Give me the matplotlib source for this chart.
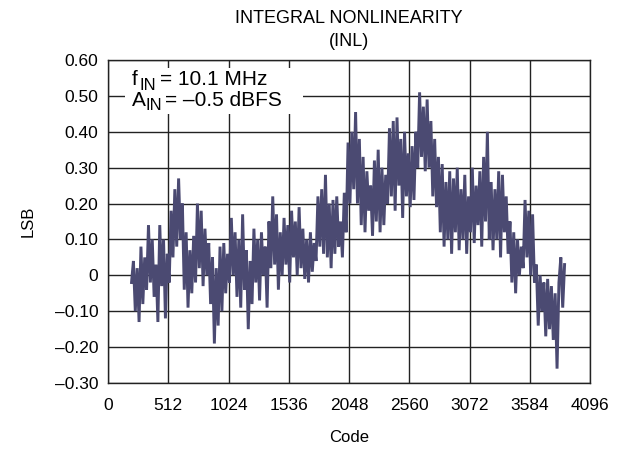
import matplotlib
matplotlib.use("Agg")
import matplotlib.pyplot as plt
import numpy as np
from matplotlib.patches import Rectangle

plt.rcParams['font.family'] = ['Liberation Sans', 'DejaVu Sans']

# INL trace, one value every 16 codes from code 200
inl = [
    -0.02, 0.04, -0.10, 0.02, -0.13, 0.08, -0.08, 0.05, -0.04, 0.14, -0.02, 0.10, -0.06, 0.03, -0.13, 0.14,
    -0.03, 0.10, -0.12, 0.06, -0.02, 0.18, 0.05, 0.24, 0.08, 0.27, 0.10, 0.20, -0.04, 0.12, -0.09, 0.07,
    -0.05, 0.11, -0.02, 0.20, 0.02, 0.18, -0.03, 0.13, 0.00, 0.09, -0.08, 0.05, -0.19, 0.02, -0.14, 0.08,
    -0.10, 0.09, -0.05, 0.06, -0.02, 0.16, 0.00, 0.12, -0.06, 0.10, -0.09, 0.17, -0.04, 0.07, -0.15, 0.04,
    -0.08, 0.13, -0.02, 0.10, -0.07, 0.12, 0.00, 0.08, -0.09, 0.15, 0.02, 0.22, 0.03, 0.17, -0.04, 0.12,
    0.00, 0.16, 0.03, 0.14, -0.02, 0.18, 0.05, 0.15, 0.00, 0.19, 0.02, 0.13, -0.01, 0.10, -0.02, 0.12,
    0.01, 0.09, 0.04, 0.22, 0.08, 0.24, 0.06, 0.28, 0.05, 0.20, 0.02, 0.21, 0.06, 0.22, 0.08, 0.15,
    0.05, 0.23, 0.12, 0.37, 0.20, 0.40, 0.24, 0.455, 0.20, 0.38, 0.14, 0.33, 0.12, 0.29, 0.18, 0.25,
    0.11, 0.32, 0.15, 0.35, 0.12, 0.30, 0.14, 0.28, 0.20, 0.41, 0.22, 0.43, 0.18, 0.44, 0.25, 0.38,
    0.16, 0.40, 0.22, 0.34, 0.19, 0.36, 0.21, 0.40, 0.30, 0.51, 0.33, 0.47, 0.29, 0.49, 0.30, 0.43,
    0.22, 0.38, 0.19, 0.33, 0.12, 0.31, 0.08, 0.26, 0.10, 0.29, 0.06, 0.27, 0.12, 0.30, 0.07, 0.24,
    0.10, 0.28, 0.06, 0.22, 0.12, 0.30, 0.09, 0.25, 0.14, 0.29, 0.08, 0.33, 0.15, 0.40, 0.10, 0.26,
    0.07, 0.24, 0.10, 0.29, 0.05, 0.28, 0.12, 0.22, 0.06, 0.15, -0.02, 0.12, -0.05, 0.10, 0.00, 0.08,
    0.02, 0.21, 0.05, 0.18, 0.00, 0.17, -0.02, 0.03, -0.14, 0.00, -0.10, -0.02, -0.17, -0.01, -0.15, -0.03,
    -0.18, -0.05, -0.26, -0.02, 0.05, -0.09, 0.03,
]
codes = 200 + 16 * np.arange(len(inl))

x_ticks = [0, 512, 1024, 1536, 2048, 2560, 3072, 3584, 4096]
y_ticks = [0.6, 0.5, 0.4, 0.3, 0.2, 0.1, 0.0, -0.1, -0.2, -0.3]
y_labels = ["0.60", "0.50", "0.40", "0.30", "0.20", "0.10", "0",
            "\u20130.10", "\u20130.20", "\u20130.30"]

fig = plt.figure(figsize=(6.29, 4.51), dpi=100)
ax = fig.add_axes([108 / 629, 1 - 383 / 451, 482 / 629, 323 / 451])

ax.plot(codes, inl, color="#4b4a72", lw=2.1, solid_joinstyle="miter", zorder=3)

ax.set_xlim(0, 4096)
ax.set_ylim(-0.3, 0.6)
ax.set_xticks(x_ticks)
ax.set_yticks(y_ticks)
ax.set_yticklabels(y_labels)
ax.tick_params(length=0, labelsize=12.5)
ax.tick_params(axis="x", pad=11)
ax.tick_params(axis="y", pad=7)
ax.grid(True, color="#222222", lw=1.0, zorder=1)
ax.set_axisbelow(True)
for s in ax.spines.values():
    s.set_color("#222222")
    s.set_linewidth(1.0)

ax.set_xlabel("Code", fontsize=12, labelpad=12)
ax.set_ylabel("LSB", fontsize=12, labelpad=14)
ax.set_title("INTEGRAL NONLINEARITY\n(INL)", fontsize=13, pad=10, linespacing=1.5)

# condition note: white patch over the grid, big dropped subscripts like the datasheet
ax.add_patch(Rectangle((0.035, 0.833), 0.37, 0.142, transform=ax.transAxes,
                       facecolor="white", edgecolor="none", zorder=4))
kw = dict(transform=ax.transAxes, va="baseline", ha="left", zorder=5)
ax.text(0.050, 0.923, "f", fontsize=15, **kw)
ax.text(0.065, 0.907, "IN", fontsize=12, **kw)
ax.text(0.107, 0.923, "= 10.1 MHz", fontsize=15, **kw)
ax.text(0.050, 0.858, "A", fontsize=15, **kw)
ax.text(0.077, 0.845, "IN", fontsize=12, **kw)
ax.text(0.119, 0.858, "= \u20130.5 dBFS", fontsize=15, **kw)

fig.savefig("out.png", dpi=100)
